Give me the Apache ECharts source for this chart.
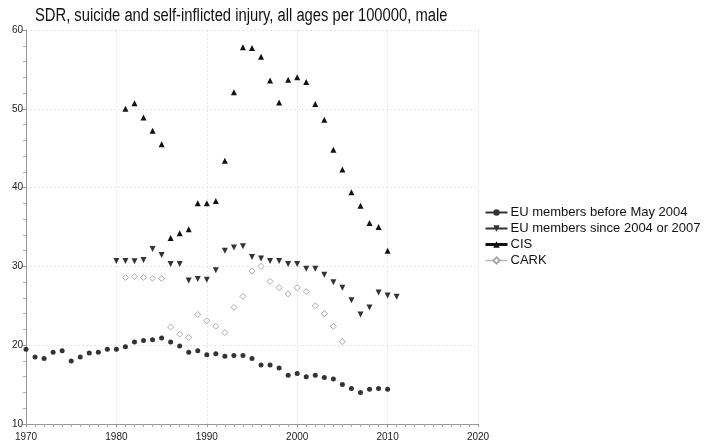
<!DOCTYPE html>
<html>
<head>
<meta charset="utf-8">
<script src="https://cdn.jsdelivr.net/npm/echarts@6/dist/echarts.min.js"></script>
<style>
  html, body { margin: 0; padding: 0; background: #fff; }
  #chart { width: 706px; height: 448px; }
</style>
</head>
<body>
<div id="chart"></div>
<script>
// Suicide and self-inflicted injury, standardised death rate per 100000, male
var yearsEuBefore = [1970,1971,1972,1973,1974,1975,1976,1977,1978,1979,
  1980,1981,1982,1983,1984,1985,1986,1987,1988,1989,
  1990,1991,1992,1993,1994,1995,1996,1997,1998,1999,
  2000,2001,2002,2003,2004,2005,2006,2007,2008,2009,2010];
var euBefore = [19.5,18.5,18.3,19.1,19.3,18.0,18.5,19.0,19.1,19.5,
  19.5,19.8,20.4,20.6,20.7,20.9,20.4,19.9,19.1,19.3,
  18.8,18.9,18.6,18.7,18.7,18.3,17.5,17.5,17.1,16.2,
  16.4,16.0,16.2,15.9,15.7,15.0,14.5,14.0,14.4,14.5,14.4];

var yearsEuSince = [1980,1981,1982,1983,1984,1985,1986,1987,1988,1989,
  1990,1991,1992,1993,1994,1995,1996,1997,1998,1999,
  2000,2001,2002,2003,2004,2005,2006,2007,2008,2009,2010,2011];
var euSince = [30.7,30.7,30.65,30.8,32.2,31.45,30.3,30.3,28.2,28.4,
  28.3,29.5,32.0,32.4,32.55,31.2,31.0,30.7,30.7,30.3,
  30.3,29.7,29.7,28.95,28.0,27.3,25.7,23.9,24.8,26.7,26.3,26.15];

var yearsCis = [1981,1982,1983,1984,1985,1986,1987,1988,1989,
  1990,1991,1992,1993,1994,1995,1996,1997,1998,1999,
  2000,2001,2002,2003,2004,2005,2006,2007,2008,2009,2010];
var cis = [50.0,50.7,48.9,47.2,45.5,33.6,34.2,34.7,38.0,
  38.0,38.3,43.4,52.1,57.8,57.7,56.6,53.6,50.8,53.7,
  54.0,53.4,50.6,48.6,44.8,42.3,39.4,37.7,35.5,35.0,32.0];

var yearsCark = [1981,1982,1983,1984,1985,1986,1987,1988,1989,
  1990,1991,1992,1993,1994,1995,1996,1997,1998,1999,
  2000,2001,2002,2003,2004,2005];
var cark = [28.6,28.7,28.6,28.5,28.45,22.3,21.4,21.0,23.9,
  23.1,22.4,21.6,24.8,26.2,29.4,30.0,28.1,27.3,26.5,
  27.3,26.8,25.0,24.0,22.4,20.45];

var xTicks = [1970, 1980, 1990, 2000, 2010, 2020];
var yTicks = [10, 20, 30, 40, 50, 60];

var seriesNames = ['EU members before May 2004', 'EU members since 2004 or 2007', 'CIS', 'CARK'];
var titleText = 'SDR, suicide and self-inflicted injury, all ages per 100000, male';

function pairs(xs, ys) {
  return xs.map(function (x, i) { return [x, ys[i]]; });
}

var FONT = 'Liberation Sans, Arial, sans-serif';

var chart = echarts.init(document.getElementById('chart'), null, { renderer: 'canvas' });

function mk(name, xs, ys, symbol, size, color, rotate, lineW, empty) {
  return {
    name: name,
    type: 'line',
    data: pairs(xs, ys),
    symbol: symbol,
    symbolSize: size,
    symbolRotate: rotate || 0,
    showAllSymbol: true,
    lineStyle: { opacity: 0, width: lineW, color: color },
    itemStyle: { color: empty ? '#fff' : color, borderColor: color, borderWidth: empty ? 1 : 0 },
    emphasis: { disabled: true },
    animation: false
  };
}

chart.setOption({
  animation: false,
  backgroundColor: '#fff',
  // condensed heading: regular sans squeezed horizontally
  graphic: [{
    type: 'text',
    left: 35,
    top: 7,
    scaleX: 0.82,
    style: { text: titleText, font: '18px ' + FONT, fill: '#111' }
  }],
  legend: {
    orient: 'vertical',
    left: 479,
    top: 201,
    itemWidth: 22,
    itemHeight: 8,
    itemGap: 3,
    textStyle: { fontFamily: FONT, fontSize: 13, color: '#111', padding: [0, 0, 0, -2] },
    data: [
      { name: seriesNames[0], lineStyle: { opacity: 1, width: 2, color: '#333' } },
      { name: seriesNames[1], lineStyle: { opacity: 1, width: 2, color: '#333' } },
      { name: seriesNames[2], lineStyle: { opacity: 1, width: 3, color: '#111' } },
      { name: seriesNames[3], lineStyle: { opacity: 1, width: 1.5, color: '#bbb' } }
    ]
  },
  grid: { left: 26, right: 228, top: 30, bottom: 24, containLabel: false },
  xAxis: {
    type: 'value',
    min: xTicks[0],
    max: xTicks[xTicks.length - 1],
    interval: 10,
    axisLine: { lineStyle: { color: '#999', width: 1 } },
    axisTick: { show: true, length: 3, lineStyle: { color: '#999' } },
    minorTick: { show: true, splitNumber: 10, length: 3, lineStyle: { color: '#aaa' } },
    axisLabel: { fontFamily: FONT, fontSize: 10, color: '#222', margin: 8,
      formatter: function (v) { return xTicks.indexOf(v) >= 0 ? String(v) : ''; } },
    splitLine: { show: true, lineStyle: { color: '#e6e6e6', type: [2, 2], width: 1 } }
  },
  yAxis: {
    type: 'value',
    min: yTicks[0],
    max: yTicks[yTicks.length - 1],
    interval: 10,
    axisLine: { show: true, lineStyle: { color: '#999', width: 1 } },
    axisTick: { show: true, length: 4, lineStyle: { color: '#999' } },
    minorTick: { show: true, splitNumber: 5, length: 3, lineStyle: { color: '#aaa' } },
    axisLabel: { fontFamily: FONT, fontSize: 10, color: '#222', margin: 3,
      formatter: function (v) { return yTicks.indexOf(v) >= 0 ? String(v) : ''; } },
    splitLine: { show: true, lineStyle: { color: '#e6e6e6', type: [2, 2], width: 1 } }
  },
  series: [
    mk(seriesNames[0], yearsEuBefore, euBefore, 'circle', 5, '#333', 0, 2, false),
    mk(seriesNames[1], yearsEuSince, euSince, 'triangle', 6, '#333', 180, 2, false),
    mk(seriesNames[2], yearsCis, cis, 'triangle', 6, '#111', 0, 3, false),
    mk(seriesNames[3], yearsCark, cark, 'diamond', 6, '#aaa', 0, 1.5, true)
  ]
});
</script>
</body>
</html>
